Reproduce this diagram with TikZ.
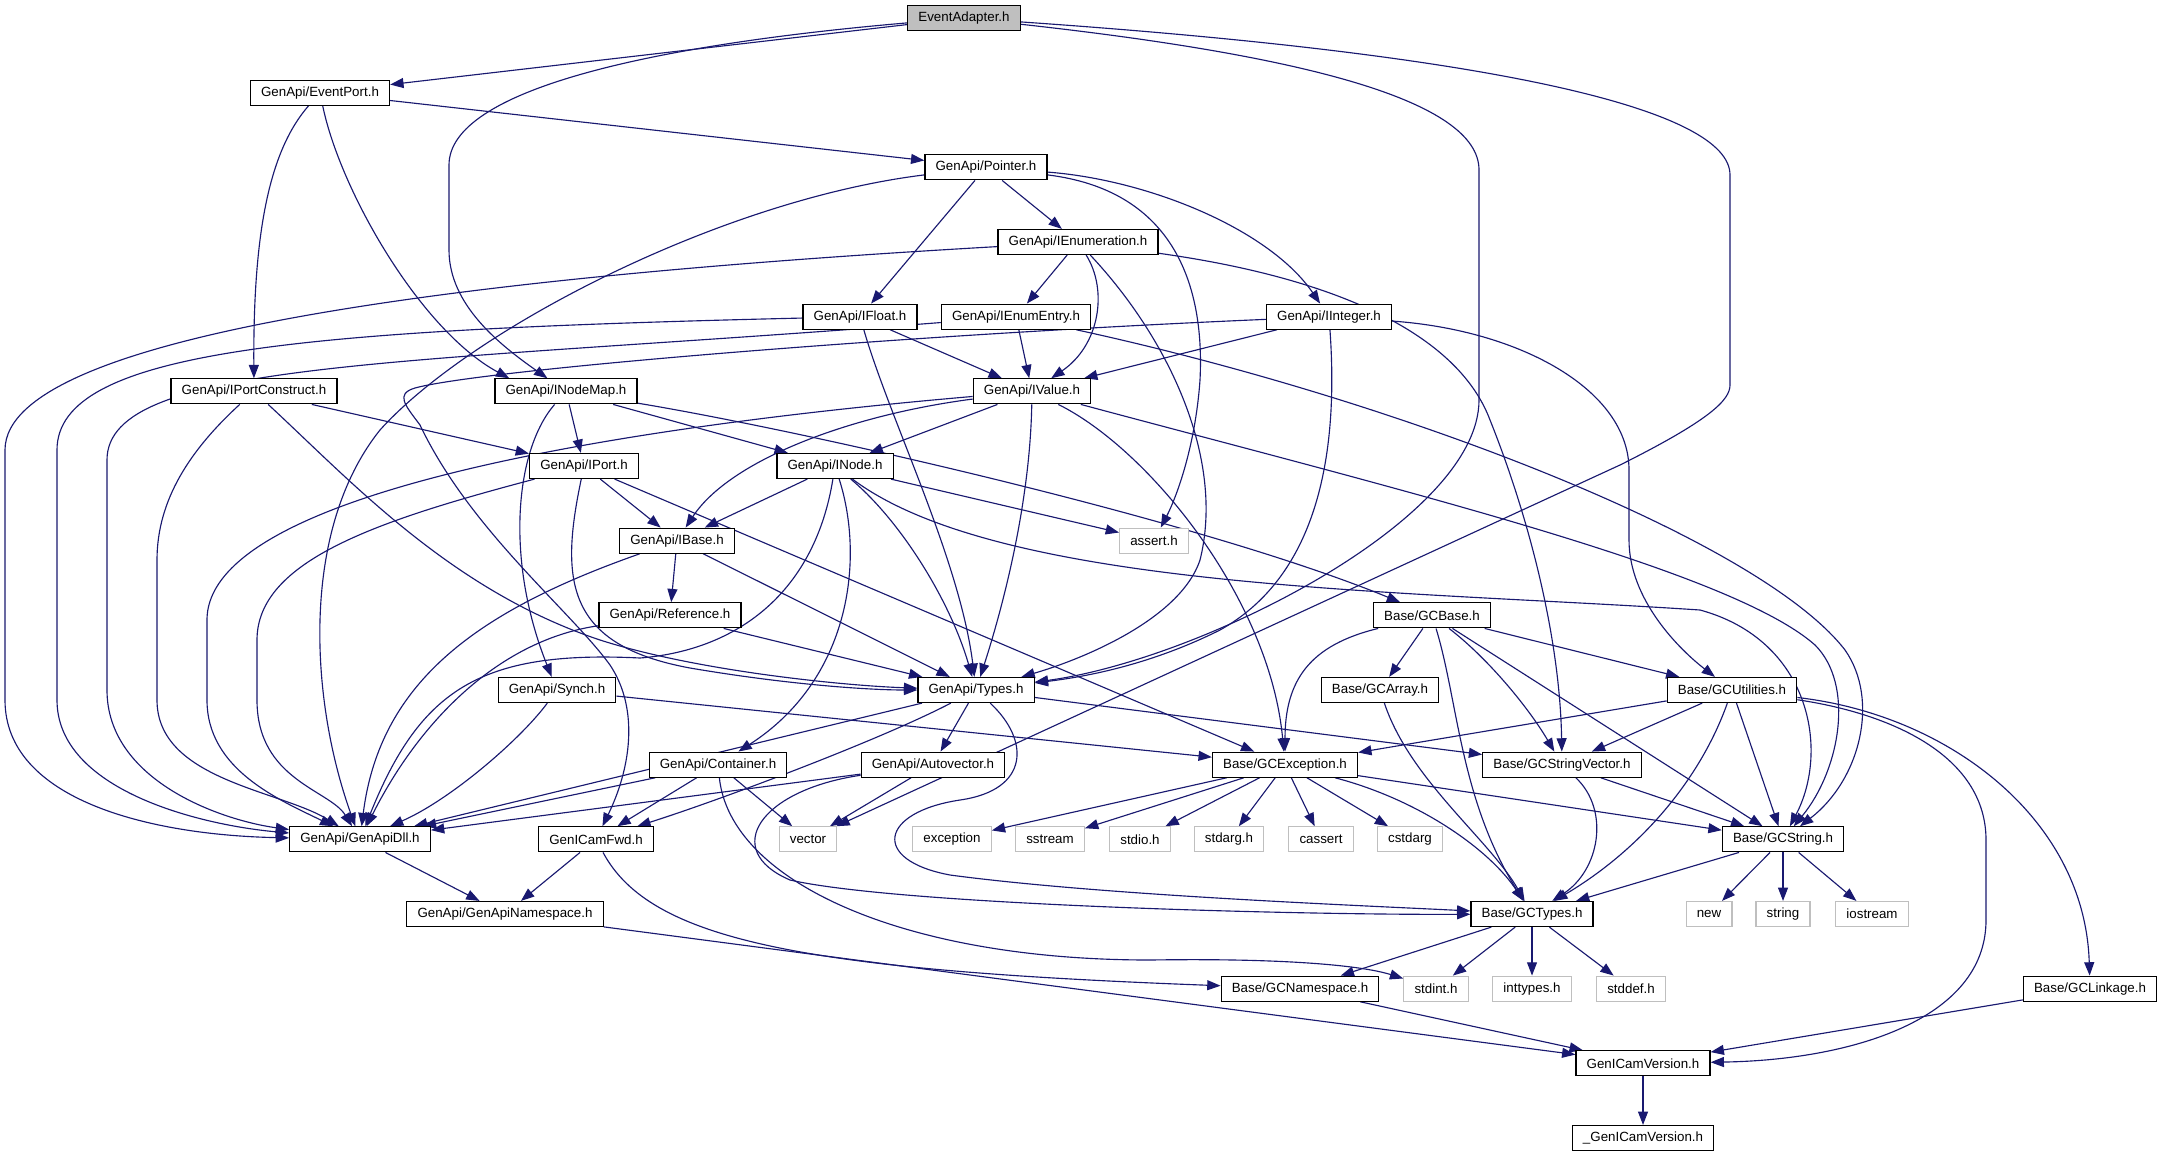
\documentclass[tikz,border=0pt]{standalone}
\usepackage{fontspec}
\setmainfont{Liberation Sans}
\usetikzlibrary{arrows.meta, positioning, backgrounds}
\definecolor{edgecolor}{RGB}{25,25,112}
\definecolor{syscolor}{RGB}{191,191,191}
\definecolor{rootcolor}{RGB}{191,191,191}

\begin{document}
\begin{tikzpicture}[
            x=0.75pt, y=-0.75pt,
            >={Triangle[length=10pt,width=7.5pt]},
                base/.style = {rectangle, line width=0.9pt, fill=white,
                            minimum height=18.75pt, inner xsep=8pt, inner ysep=0pt,
                            text centered, font=\fontsize{10}{12}\selectfont},
                header/.style = {base, draw=black},
                sysheader/.style = {base, draw=syscolor},
                root/.style = {base, draw=black, fill=rootcolor},
                dep/.style = {->, color=edgecolor, line width=0.85pt},
            node distance=56pt]
            \useasboundingbox (0,0) rectangle (2161,1157);
            \node (EventAdapter) [root] at (964,18) {EventAdapter.h};
            \node (EventPort) [header, below of=EventAdapter, xshift=-483pt] {GenApi/EventPort.h};
            \node (Pointer) [header, below of=EventPort, xshift=499.5pt] {GenApi/Pointer.h};
            \node (IEnumeration) [header, below of=Pointer, xshift=69pt] {GenApi/IEnumeration.h};
            \node (IFloat) [header, below of=IEnumeration, xshift=-163.5pt] {GenApi/IFloat.h};
            \node (IEnumEntry) [header, below of=IEnumeration, xshift=-46.5pt] {GenApi/IEnumEntry.h};
            \node (IInteger) [header, below of=IEnumeration, xshift=188.25pt] {GenApi/IInteger.h};
            \node (IPortConstruct) [header, below of=IFloat, xshift=-454.5pt] {GenApi/IPortConstruct.h};
            \node (INodeMap) [header, below of=IFloat, xshift=-220.5pt] {GenApi/INodeMap.h};
            \node (IValue) [header, below of=IEnumEntry, xshift=12pt] {GenApi/IValue.h};
            \node (IPort) [header, below of=INodeMap, xshift=13.5pt] {GenApi/IPort.h};
            \node (INode) [header, below of=INodeMap, xshift=201.75pt] {GenApi/INode.h};
            \node (IBase) [header, below of=IPort, xshift=69.75pt] {GenApi/IBase.h};
            \node (assert) [sysheader, below of=INode, xshift=239.25pt] {assert.h};
            \node (Reference) [header, below of=IBase, xshift=-5.25pt] {GenApi/Reference.h};
            \node (GCBase) [header, below of=assert, xshift=208.5pt] {Base/GCBase.h};
            \node (Synch) [header, below of=Reference, xshift=-84.75pt] {GenApi/Synch.h};
            \node (Types) [header, below of=Reference, xshift=229.5pt] {GenApi/Types.h};
            \node (GCArray) [header, below of=GCBase, xshift=-39pt] {Base/GCArray.h};
            \node (GCUtilities) [header, below of=GCBase, xshift=225pt] {Base/GCUtilities.h};
            \node (Container) [header, below of=Types, xshift=-193.5pt] {GenApi/Container.h};
            \node (Autovector) [header, below of=Types, xshift=-32.25pt] {GenApi/Autovector.h};
            \node (GCException) [header, below of=GCArray, xshift=-71.25pt] {Base/GCException.h};
            \node (GCStringVector) [header, below of=GCArray, xshift=136.5pt] {Base/GCStringVector.h};
            \node (GenApiDll) [header, below of=Container, xshift=-268.5pt] {GenApi/GenApiDll.h};
            \node (GenICamFwd) [header, below of=Container, xshift=-91.5pt] {GenICamFwd.h};
            \node (vector) [sysheader, below of=Container, xshift=67.5pt] {vector};
            \node (exception) [sysheader, below of=Autovector, xshift=14.25pt] {exception};
            \node (sstream) [sysheader, below of=Autovector, xshift=87.75pt] {sstream};
            \node (stdio) [sysheader, below of=GCException, xshift=-108.75pt] {stdio.h};
            \node (stdarg) [sysheader, below of=GCException, xshift=-42pt] {stdarg.h};
            \node (cassert) [sysheader, below of=GCException, xshift=27pt] {cassert};
            \node (cstdarg) [sysheader, below of=GCException, xshift=93.75pt] {cstdarg};
            \node (GCString) [header, below of=GCStringVector, xshift=165.75pt] {Base/GCString.h};
            \node (GenApiNamespace) [header, below of=GenApiDll, xshift=108.75pt] {GenApi/GenApiNamespace.h};
            \node (GCTypes) [header, below of=cstdarg, xshift=91.5pt] {Base/GCTypes.h};
            \node (new) [sysheader, below of=GCString, xshift=-55.5pt] {new};
            \node (string) [sysheader, below of=GCString] {string};
            \node (iostream) [sysheader, below of=GCString, xshift=66.75pt] {iostream};
            \node (GCNamespace) [header, below of=GCTypes, xshift=-174pt] {Base/GCNamespace.h};
            \node (stdint) [sysheader, below of=GCTypes, xshift=-72pt] {stdint.h};
            \node (inttypes) [sysheader, below of=GCTypes] {inttypes.h};
            \node (stddef) [sysheader, below of=GCTypes, xshift=74.25pt] {stddef.h};
            \node (GCLinkage) [header, below of=GCTypes, xshift=418.5pt] {Base/GCLinkage.h};
            \node (GenICamVersion) [header, below of=inttypes, xshift=83.25pt] {GenICamVersion.h};
            \node (PrivGenICamVersion) [header, below of=GenICamVersion] {\_GenICamVersion.h};
            \begin{scope}[on background layer]
            \fill[white] (0,0) rectangle (2161,1157);
            \draw[dep] (EventAdapter) -- (EventPort);
            \draw[dep] (EventAdapter) .. controls (650,45) and (449,90) .. (449,165) -- (449,250) .. controls (449,305) and (500,345) .. (INodeMap);
            \draw[dep] (EventAdapter) .. controls (1300,55) and (1479,100) .. (1479,170) -- (1479,400) .. controls (1479,520) and (1200,660) .. (Types);
            \draw[dep] (EventAdapter) .. controls (1500,55) and (1730,110) .. (1730,175) -- (1730,385) .. controls (1730,400) and (1710,420) .. (1620,465) -- (vector);
            \draw[dep] (EventPort) -- (Pointer);
            \draw[dep] (EventPort) .. controls (270,150) and (253,230) .. (IPortConstruct);
            \draw[dep] (EventPort) .. controls (340,190) and (420,330) .. (INodeMap.167);
            \draw[dep] (Pointer) .. controls (720,200) and (470,330) .. (380,430) .. controls (300,530) and (310,700) .. (GenApiDll);
            \draw[dep] (Pointer) -- (IFloat);
            \draw[dep] (Pointer) -- (IEnumeration);
            \draw[dep] (Pointer) .. controls (1150,180) and (1270,230) .. (IInteger);
            \draw[dep] (Pointer) .. controls (1170,190) and (1205,280) .. (1200,380) .. controls (1195,450) and (1175,500) .. (assert);
            \draw[dep] (IEnumeration) .. controls (500,275) and (5,330) .. (5,450) -- (5,700) .. controls (5,800) and (150,835) .. (GenApiDll);
            \draw[dep] (IEnumeration) -- (IEnumEntry);
            \draw[dep] (IEnumeration) .. controls (1108,290) and (1100,345) .. (IValue);
            \draw[dep] (IEnumeration) .. controls (1170,340) and (1225,460) .. (1200,560) .. controls (1180,620) and (1080,660) .. (Types);
            \draw[dep] (IEnumeration) .. controls (1350,280) and (1460,340) .. (1490,420) .. controls (1530,520) and (1560,640) .. (GCStringVector);
            \draw[dep] (IFloat) .. controls (300,330) and (57,350) .. (57,450) -- (57,700) .. controls (57,790) and (200,825) .. (GenApiDll);
            \draw[dep] (IFloat) -- (IValue);
            \draw[dep] (IFloat) .. controls (890,420) and (960,560) .. (Types);
            \draw[dep] (IEnumEntry) -- (IValue);
            \draw[dep] (IEnumEntry) .. controls (400,365) and (107,360) .. (107,460) -- (107,690) .. controls (107,780) and (220,820) .. (GenApiDll);
            \draw[dep] (IEnumEntry) .. controls (1400,400) and (1760,540) .. (1845,650) .. controls (1880,700) and (1860,780) .. (GCString);
            \draw[dep] (IInteger) -- (IValue);
            \draw[dep] (IInteger) .. controls (900,335) and (480,370) .. (415,388) .. controls (395,394) and (405,405) .. (420,425) .. controls (470,530) and (570,610) .. (610,665) .. controls (640,710) and (630,770) .. (GenICamFwd);
            \draw[dep] (IInteger) .. controls (1340,470) and (1310,580) .. (1220,630) .. controls (1160,660) and (1100,675) .. (Types);
            \draw[dep] (IInteger) .. controls (1520,330) and (1629,390) .. (1629,470) -- (1629,540) .. controls (1629,600) and (1680,650) .. (GCUtilities);
            \draw[dep] (INodeMap) -- (IPort);
            \draw[dep] (INodeMap) -- (INode);
            \draw[dep] (INodeMap) .. controls (515,450) and (505,560) .. (Synch);
            \draw[dep] (INodeMap) .. controls (800,430) and (1200,520) .. (GCBase);
            \draw[dep] (IValue) .. controls (700,420) and (207,480) .. (207,620) -- (207,700) .. controls (207,770) and (280,800) .. (GenApiDll);
            \draw[dep] (IValue) -- (INode);
            \draw[dep] (IValue) .. controls (850,415) and (730,460) .. (IBase);
            \draw[dep] (IValue) .. controls (1030,500) and (1005,600) .. (Types);
            \draw[dep] (IValue) .. controls (1150,450) and (1270,600) .. (GCException);
            \draw[dep] (IValue) .. controls (1400,490) and (1730,570) .. (1815,645) .. controls (1855,685) and (1840,770) .. (GCString);
            \draw[dep] (INode) -- (IBase);
            \draw[dep] (INode) .. controls (815,590) and (740,650) .. (640,658) .. controls (480,650) and (420,690) .. (GenApiDll);
            \draw[dep] (INode) .. controls (865,560) and (850,680) .. (Container);
            \draw[dep] (INode) .. controls (900,520) and (950,600) .. (Types);
            \draw[dep] (INode) -- (assert);
            \draw[dep] (INode) .. controls (1000,590) and (1400,590) .. (1700,610) .. controls (1810,640) and (1830,750) .. (GCString);
            \draw[dep] (IBase) .. controls (480,610) and (380,680) .. (GenApiDll);
            \draw[dep] (IBase) -- (Reference);
            \draw[dep] (IBase) -- (Types);
            \draw[dep] (Reference) .. controls (500,640) and (420,720) .. (GenApiDll);
            \draw[dep] (Reference) -- (Types);
            \draw[dep] (IPort) -- (IBase);
            \draw[dep] (IPort) .. controls (380,520) and (257,560) .. (257,640) -- (257,700) .. controls (257,780) and (330,790) .. (GenApiDll);
            \draw[dep] (IPort) .. controls (560,580) and (565,645) .. (690,668) .. controls (790,685) and (870,690) .. (Types);
            \draw[dep] (IPort) -- (GCException);
            \draw[dep] (IPortConstruct) -- (IPort);
            \draw[dep] (IPortConstruct) .. controls (190,450) and (157,500) .. (157,560) -- (157,700) .. controls (157,780) and (280,790) .. (GenApiDll);
            \draw[dep] (IPortConstruct) .. controls (350,480) and (450,590) .. (600,640) .. controls (700,672) and (850,686) .. (Types);
            \draw[dep] (Synch) .. controls (520,740) and (450,800) .. (GenApiDll);
            \draw[dep] (Synch) -- (GCException);
            \draw[dep] (Types) -- (GenApiDll);
            \draw[dep] (Types) .. controls (880,740) and (720,800) .. (GenICamFwd);
            \draw[dep] (Types) -- (Autovector);
            \draw[dep] (Types) .. controls (1030,740) and (1030,790) .. (960,800) .. controls (880,812) and (870,860) .. (950,875) .. controls (1100,895) and (1350,905) .. (GCTypes);
            \draw[dep] (Types) -- (GCStringVector);
            \draw[dep] (Container) -- (GenApiDll);
            \draw[dep] (Container) -- (GenICamFwd);
            \draw[dep] (Container) -- (vector);
            \draw[dep] (Container) .. controls (730,880) and (900,960) .. (1150,960) .. controls (1280,958) and (1360,965) .. (stdint);
            \draw[dep] (Autovector) -- (GenApiDll);
            \draw[dep] (Autovector) -- (vector);
            \draw[dep] (Autovector) .. controls (760,790) and (720,850) .. (790,880) .. controls (900,905) and (1300,915) .. (GCTypes);
            \draw[dep] (GCBase) .. controls (1310,645) and (1285,680) .. (GCException);
            \draw[dep] (GCBase) -- (GCArray);
            \draw[dep] (GCBase) .. controls (1458,700) and (1460,800) .. (GCTypes);
            \draw[dep] (GCBase) .. controls (1490,660) and (1530,710) .. (GCStringVector);
            \draw[dep] (GCBase) -- (GCString);
            \draw[dep] (GCBase) -- (GCUtilities);
            \draw[dep] (GCArray) .. controls (1410,780) and (1490,840) .. (GCTypes);
            \draw[dep] (GCUtilities) -- (GCException);
            \draw[dep] (GCUtilities) -- (GCStringVector);
            \draw[dep] (GCUtilities) .. controls (1700,780) and (1640,850) .. (GCTypes);
            \draw[dep] (GCUtilities) -- (GCString);
            \draw[dep] (GCUtilities) .. controls (1900,715) and (1986,760) .. (1986,840) -- (1986,920) .. controls (1986,1020) and (1850,1060) .. (GenICamVersion);
            \draw[dep] (GCUtilities) .. controls (1950,715) and (2085,820) .. (GCLinkage);
            \draw[dep] (GCException) -- (exception);
            \draw[dep] (GCException) -- (sstream);
            \draw[dep] (GCException) -- (stdio);
            \draw[dep] (GCException) -- (stdarg);
            \draw[dep] (GCException) -- (cassert);
            \draw[dep] (GCException) -- (cstdarg);
            \draw[dep] (GCException) .. controls (1420,800) and (1490,850) .. (GCTypes);
            \draw[dep] (GCException) -- (GCString);
            \draw[dep] (GCStringVector) -- (GCString);
            \draw[dep] (GCStringVector) .. controls (1610,810) and (1600,870) .. (GCTypes);
            \draw[dep] (GCString) -- (GCTypes);
            \draw[dep] (GCString) -- (new);
            \draw[dep] (GCString) -- (string);
            \draw[dep] (GCString) -- (iostream);
            \draw[dep] (GCTypes) -- (GCNamespace);
            \draw[dep] (GCTypes) -- (stdint);
            \draw[dep] (GCTypes) -- (inttypes);
            \draw[dep] (GCTypes) -- (stddef);
            \draw[dep] (GenApiDll) -- (GenApiNamespace);
            \draw[dep] (GenICamFwd) -- (GenApiNamespace);
            \draw[dep] (GenICamFwd) .. controls (650,940) and (800,970) .. (GCNamespace);
            \draw[dep] (GenApiNamespace) -- (GenICamVersion);
            \draw[dep] (GCNamespace) -- (GenICamVersion);
            \draw[dep] (GCLinkage) -- (GenICamVersion);
            \draw[dep] (GenICamVersion) -- (PrivGenICamVersion);
            \end{scope}
        \end{tikzpicture}
\end{document}
